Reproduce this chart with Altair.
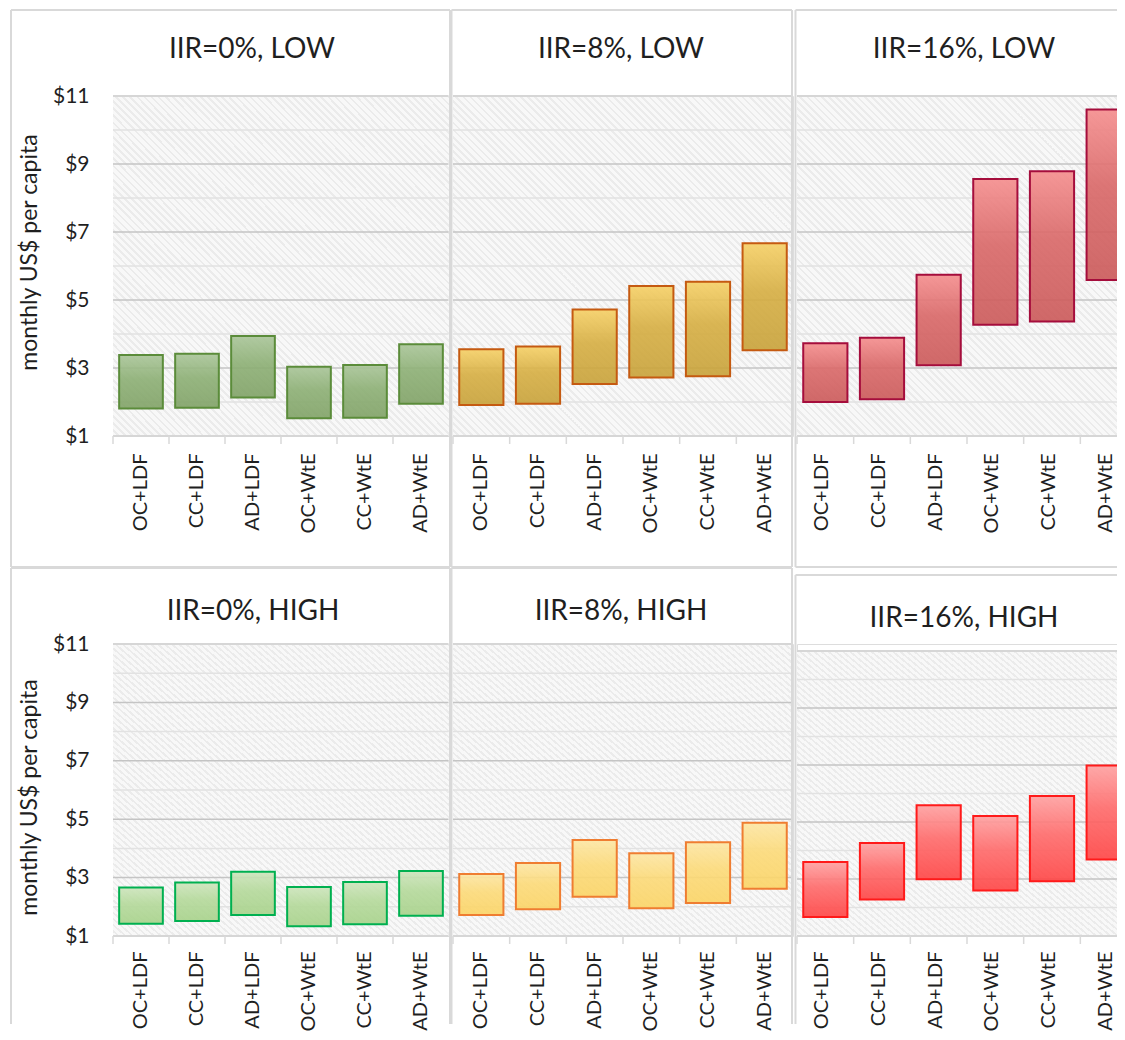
import altair as alt
import pandas as pd

# ---- data ----
cats = ["OC+LDF", "CC+LDF", "AD+LDF", "OC+WtE", "CC+WtE", "AD+WtE"]
titles = ["IIR=0%, LOW", "IIR=8%, LOW", "IIR=16%, LOW",
          "IIR=0%, HIGH", "IIR=8%, HIGH", "IIR=16%, HIGH"]

low0_lo = [1.81, 1.83, 2.13, 1.52, 1.54, 1.95]
low0_hi = [3.38, 3.42, 3.94, 3.04, 3.09, 3.70]
low8_lo = [1.91, 1.95, 2.53, 2.72, 2.76, 3.52]
low8_hi = [3.55, 3.63, 4.72, 5.41, 5.54, 6.67]
low16_lo = [2.00, 2.08, 3.08, 4.27, 4.37, 5.59]
low16_hi = [3.73, 3.89, 5.74, 8.56, 8.79, 10.60]
high0_lo = [1.42, 1.51, 1.72, 1.33, 1.40, 1.69]
high0_hi = [2.66, 2.83, 3.20, 2.68, 2.85, 3.23]
high8_lo = [1.72, 1.92, 2.34, 1.95, 2.13, 2.62]
high8_hi = [3.12, 3.50, 4.29, 3.83, 4.21, 4.88]
high16_lo = [1.67, 2.28, 2.99, 2.60, 2.92, 3.68]
high16_hi = [3.60, 4.26, 5.59, 5.21, 5.91, 6.98]

y_ticks = [1, 3, 5, 7, 9, 11]
major_grid = [3, 5, 7, 9]
minor_grid = [2, 4, 6, 8, 10]
edge_grid = [1, 11]
y_title = "monthly US$ per capita"

FONT = "Lato"
TXT = "#1f1f1f"
BORDER = "#d9d9d9"

# ---- styling / layout per panel ----
panels = [
    dict(lo=low0_lo, hi=low0_hi, W=336, H=340, ytop=0, yaxis=True, titleY=156,
         tx=139, ty=-38, lp=17, lo_off=0, stroke="#5b8c3a", stops=["#a9c598", "#8caf74", "#80a266"],
         borders=[(-102, 337, -86, None), (-102, 337, 471, None),
                  (-102, None, -86, 471), (337, None, -86, 471)]),
    dict(lo=low8_lo, hi=low8_hi, W=340, H=340, ytop=0, yaxis=False, titleY=0,
         tx=168, ty=-38, lp=17, lo_off=0, stroke="#c55a11", stops=["#f6d065", "#d6ae42", "#c8a239"],
         borders=[(-1.5, 339, -86, None), (-1.5, 339, 471, None),
                  (-1.5, None, -86, 471), (339, None, -86, 471)]),
    dict(lo=low16_lo, hi=low16_hi, W=340, H=340, ytop=0, yaxis=False, titleY=0,
         tx=167, ty=-38, lp=17, lo_off=-3, stroke="#a50d3c", stops=["#f58d8d", "#d96767", "#cb5959"],
         borders=[(-1.5, 339, -86, None), (-1.5, 339, 471, None),
                  (-1.5, None, -86, 471)]),
    dict(lo=high0_lo, hi=high0_hi, W=336, H=292, ytop=0, yaxis=True, titleY=153,
         tx=140, ty=-24, lp=15, lo_off=0, stroke="#00b050", stops=["#cde5bc", "#b4d99a", "#a7d28a"],
         borders=[(-102, 337, -76, None), (-102, None, -76, 380), (337, None, -76, 380)]),
    dict(lo=high8_lo, hi=high8_hi, W=340, H=292, ytop=0, yaxis=False, titleY=0,
         tx=168, ty=-24, lp=15, lo_off=0, stroke="#ef7d31", stops=["#fde6a3", "#fcda78", "#fbd465"],
         borders=[(-1.5, 339, -76, None), (-1.5, None, -76, 380), (339, None, -76, 380)]),
    dict(lo=high16_lo, hi=high16_hi, W=340, H=292, ytop=7, yaxis=False, titleY=0,
         tx=167, ty=-17, lp=15, lo_off=-3, stroke="#ff1a1a", stops=["#ffa0a0", "#ff6a6a", "#ff4444"],
         borders=[(-1.5, 339, -69, None), (-1.5, None, -69, 380)]),
]

# light diagonal hatch for the plot background (style only)
N_STRIPES = 95
hatch_stops = []
for k in range(N_STRIPES):
    a, b, c = k / N_STRIPES, (k + 0.62) / N_STRIPES, (k + 1) / N_STRIPES
    hatch_stops += [alt.GradientStop(color="#f8f8f8", offset=a),
                    alt.GradientStop(color="#f8f8f8", offset=b),
                    alt.GradientStop(color="#ebebeb", offset=b),
                    alt.GradientStop(color="#ebebeb", offset=c)]
hatch = alt.Gradient(gradient="linear", stops=hatch_stops, x1=0, y1=1, x2=1, y2=0)


def make_panel(i):
    p = panels[i]
    W, H = p["W"], p["H"]
    xs = alt.Scale(domain=cats, paddingInner=0, paddingOuter=0)
    ys = alt.Scale(domain=[1, 11], nice=False, zero=False, range=[H, p["ytop"]])

    xaxis = alt.Axis(labelAngle=270, labelFont=FONT, labelFontSize=20,
                     labelColor=TXT, ticks=False, tickSize=0, domain=False,
                     labelPadding=p["lp"], labelOffset=p["lo_off"], grid=False)
    if p["yaxis"]:
        yaxis = alt.Axis(values=y_ticks, labelExpr="'$' + datum.value", title=y_title,
                         titleFont=FONT, titleFontSize=23, titleFontWeight="normal",
                         titleColor=TXT, titlePadding=11, titleY=p["titleY"],
                         labelFont=FONT, labelFontSize=21, labelColor=TXT,
                         labelPadding=24, ticks=False, tickSize=0, domain=False, grid=False)
    else:
        yaxis = None

    df = pd.DataFrame({"cat": cats, "lo": p["lo"], "hi": p["hi"]})
    one = pd.DataFrame({"k": [0]})

    bg = alt.Chart(pd.DataFrame({"top": [max(edge_grid)], "bot": [min(edge_grid)]})).mark_rect(
        fill=hatch).encode(
        x=alt.value(0), x2=alt.value(W),
        y=alt.Y("top:Q", scale=ys, axis=yaxis), y2="bot:Q")

    def grid(vals, color, sw):
        return alt.Chart(pd.DataFrame({"v": vals})).mark_rule(color=color, strokeWidth=sw).encode(
            y=alt.Y("v:Q", scale=ys, axis=yaxis), x=alt.value(0), x2=alt.value(W - 0.5))

    g_minor = grid(minor_grid, "#e2e2e2", 1.5)
    g_major = grid(major_grid, "#c4c4c4", 1.5)
    g_edge = grid(edge_grid, "#d6d6d6", 2)

    ticks = alt.Chart(pd.DataFrame({"cat": cats})).mark_rule(color=BORDER, strokeWidth=1.5).encode(
        x=alt.X("cat:N", scale=xs, axis=xaxis, bandPosition=0, title=None),
        y=alt.value(H), y2=alt.value(H + 8))

    grad = alt.Gradient(
        gradient="linear",
        stops=[alt.GradientStop(color=p["stops"][0], offset=0),
               alt.GradientStop(color=p["stops"][1], offset=0.45),
               alt.GradientStop(color=p["stops"][2], offset=1)],
        x1=0, x2=0, y1=0, y2=1)

    bars = alt.Chart(df).mark_bar(
        width={"band": 0.78}, fill=grad, fillOpacity=0.9, stroke=p["stroke"],
        strokeWidth=2).encode(
        x=alt.X("cat:N", scale=xs, axis=xaxis, title=None),
        y=alt.Y("lo:Q", scale=ys, axis=yaxis),
        y2="hi:Q")

    title = alt.Chart(pd.DataFrame({"t": [titles[i]]})).mark_text(
        font=FONT, fontSize=28, align="center", baseline="alphabetic", color=TXT).encode(
        text="t:N", x=alt.value(p["tx"]), y=alt.value(p["ty"]))

    layers = [bg, g_minor, g_major, g_edge, ticks, bars, title]
    for (xa, xb, ya, yb) in p["borders"]:
        if xb is not None:
            r = alt.Chart(one).mark_rule(color=BORDER, strokeWidth=2).encode(
                x=alt.value(xa), x2=alt.value(xb), y=alt.value(ya))
        else:
            r = alt.Chart(one).mark_rule(color=BORDER, strokeWidth=2).encode(
                x=alt.value(xa), y=alt.value(ya), y2=alt.value(yb))
        layers.append(r)

    return alt.layer(*layers).properties(width=W, height=H)


charts = [make_panel(i) for i in range(6)]

chart = alt.concat(
    *charts, columns=3, spacing={"row": 208, "column": 4}, bounds="flush", align="each"
).properties(
    padding={"left": 1, "top": 0, "right": -21, "bottom": 0}
).configure_view(strokeWidth=0).configure(font=FONT)

chart.save("out.html", embed_options={"renderer": "svg", "actions": False})
